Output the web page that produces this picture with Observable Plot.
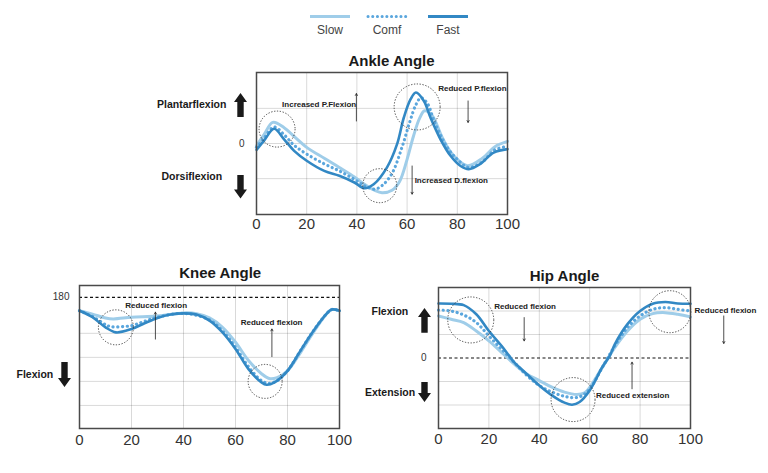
<!DOCTYPE html>
<html><head><meta charset="utf-8">
<script src="https://cdn.jsdelivr.net/npm/d3@7"></script>
<script src="https://cdn.jsdelivr.net/npm/@observablehq/plot@0.6"></script>
<style>
body{margin:0;background:#fff;}
#root{position:relative;width:768px;height:473px;overflow:hidden;background:#fff;font-family:"Liberation Sans",Arial,sans-serif;}
#root svg.panel{position:absolute;left:0;top:0;}
.lbl{position:absolute;font-weight:bold;font-size:10.5px;color:#1a1a1a;white-space:nowrap;transform:translateY(-50%);line-height:1;}
.leg{position:absolute;font-size:12px;color:#444;transform:translate(-50%,-50%);line-height:1;}
.abs{position:absolute;}
</style>
</head><body>
<div id="root"></div>
<script>
// ---------- data ----------
const seriesNames = ["Slow", "Comf", "Fast"];
const xTicks = [0, 20, 40, 60, 80, 100];

// Ankle angle (deg)
const ankleSlowT = [0,3,6.5,11,15,20,27,33,39,43,47,50,54,57,60,62.5,65,67,70,74,78,84,90,95,100];
const ankleSlowV = [-0.7,2.5,6,4.5,2,-1.1,-4.2,-6.8,-9.5,-11.6,-13.3,-14,-13.3,-10.8,-4.5,2,7.2,9.3,7.9,1.7,-3,-6.3,-4.2,-0.9,0.6];
const ankleComfT = [0,3,7,11,15,20,27,33,39,43,47,50,54,58,61,63.5,65.5,68,71,76,80,84.5,90,95,100];
const ankleComfV = [-1.1,1.5,4.7,2.5,-0.5,-3,-5.8,-7.8,-10.2,-12,-13,-12,-8.5,-1,6,11,13,11.5,6,-1.1,-4.5,-6.8,-5.2,-1.8,-0.8];
const ankleFastT = [0,3,7,11,15,20,27,33,39,43,46.7,52,56,58.7,61.4,63.5,66.7,69.3,73.3,77.3,81.3,84.6,89,94.5,100];
const ankleFastV = [-1.8,0.8,4.2,1.2,-2.1,-4.9,-7.8,-9.2,-11.1,-12.7,-11.6,-6.8,-0.2,7.4,12.6,14.5,12.1,7.4,1.2,-3.5,-6.4,-7.3,-5.9,-2.6,-1.6];

// Knee angle (deg)
const kneeSlowT = [0,5,10,13,20,30,40,45,50,55,60,65,70,73,76,80,85,90,95,97,100];
const kneeSlowV = [174.4,173,171.4,171,171.7,172.2,173.5,173.2,171.4,167.5,161.3,153.7,148.2,146.2,146.6,149.4,157,165.5,173,174.9,174.4];
const kneeComfT = [0,5,10,12,20,25,30,40,50,55,60,65,70,73,76,80,85,90,95,97,100];
const kneeComfV = [174.4,172,168.6,167.8,168.2,170,171.7,173.3,170.6,166,159.2,151.1,145.3,144.2,145.3,149.4,157.8,166.1,173.1,174.9,174.4];
const kneeFastT = [0,5,10,14,20,25,30,35,40,45,50,55,60,65,70,72,75,80,85,90,95,97,100];
const kneeFastV = [174.4,171.7,167.5,165.4,166.8,169.2,171.4,172.8,173.3,172.8,170.3,165.4,158.5,150.1,144.6,143.6,144.6,149.4,157.8,166.1,173.1,174.9,174.4];

// Hip angle (deg)
const hipSlowT = [0,5,10,15,20,25,30,35,40,45,50,55,58,60,65,70,75,80,85,90,95,100];
const hipSlowV = [17.9,16.5,15.1,11.5,7.3,2.4,-2.5,-6.8,-9.6,-12.4,-14.5,-15.5,-14.8,-12.5,-4,4.5,11.5,16.5,18.9,19.3,18.6,17.5];
const hipComfT = [0,5,10,15,20,25,30,35,40,45,50,54,57,60,65,70,75,80,85,90,95,100];
const hipComfV = [20.4,20,18.3,15.1,9.4,3.8,-1.8,-7.3,-11.7,-14.5,-16.3,-16.9,-16,-13.2,-4,5.2,13,17.9,20.7,21.4,20.7,20];
const hipFastT = [0,5,10,15,20,25,28,30,35,40,45,50,53,56,60,65,68,70,75,80,85,90,95,100];
const hipFastV = [23.2,23.1,22.5,18.6,11.5,5.2,1,-1.8,-6.8,-11.7,-15.9,-19,-19.9,-18.7,-13.8,-3.9,1,5.9,14.4,20,23.1,23.8,23.2,23.1];

// Annotations: circles [t, deg, radiusPx], notes [t, deg, text], arrows [t, deg from, deg to]
const ankleCircles = [[8.2,4.1,18],[64,10.4,23],[49.1,-12,17]];
const ankleNotes = [[10.2,11,"Increased P.Flexion"],[72.4,15.7,"Reduced P.flexion"],[63,-10.4,"Increased D.flexion"]];
const ankleArrows = [[39.8,6.4,14.2],[84.3,12.1,6.0],[62,-6.4,-14.4]];

const kneeCircles = [[14,167.5,17.5],[71.4,145,17]];
const kneeNotes = [[17.6,176.8,"Reduced flexion"],[62,169.6,"Reduced flexion"]];
const kneeArrows = [[29.2,162.6,173.8],[74,155.3,166.8]];

const hipCircles = [[12.8,16.2,23],[53.4,-17.7,22],[91.8,19.7,21]];
const hipNotes = [[22.1,22.1,"Reduced flexion"],[62.5,-15.9,"Reduced extension"],[101.6,20.4,"Reduced flexion"]];
const hipArrows = [[34,17.2,7.3],[76.8,-13.1,-1.8],[113.2,17.9,6.2]];

// ---------- styling ----------
const colors = {Slow:"#9fcde9", Comf:"#5aa6dd", Fast:"#3288c4"};
const FONT = "Liberation Sans, Arial, sans-serif";

function rows(T, V){ return T.map((t,i)=>({t, v:V[i]})); }

function panel(o){
  const lines = [
    Plot.line(rows(o.slow[0],o.slow[1]), {x:"t", y:"v", stroke:colors.Slow, strokeWidth:3, curve:"catmull-rom"}),
    Plot.line(rows(o.comf[0],o.comf[1]), {x:"t", y:"v", stroke:colors.Comf, strokeWidth:3.2, strokeDasharray:"0.1,4.6", strokeLinecap:"round", curve:"catmull-rom"}),
    Plot.line(rows(o.fast[0],o.fast[1]), {x:"t", y:"v", stroke:colors.Fast, strokeWidth:2.6, curve:"catmull-rom"})
  ];
  const circles = o.circles.map(c => Plot.dot([c], {x:d=>d[0], y:d=>d[1], r:c[2], fill:"none", stroke:"#333", strokeWidth:0.9, strokeDasharray:"1.3,1.6"}));
  return Plot.plot({
    width:768, height:473,
    marginLeft:o.m[0], marginRight:o.m[1], marginTop:o.m[2], marginBottom:o.m[3],
    style:{background:"transparent", fontFamily:FONT, overflow:"visible"},
    x:{domain:[0,100], axis:null},
    y:{domain:o.yDomain, axis:null},
    marks:[
      Plot.gridX([20,40,60,80], {stroke:"#000", strokeOpacity:0.15, strokeWidth:1}),
      Plot.gridY(o.yGrid, {stroke:"#000", strokeOpacity:0.15, strokeWidth:1}),
      Plot.ruleY(o.refLine, {stroke:"#111", strokeWidth:1.2, strokeDasharray:"3,2.5"}),
      ...lines,
      ...circles,
      Plot.arrow(o.arrows, {x1:d=>d[0], y1:d=>d[1], x2:d=>d[0], y2:d=>d[2], stroke:"#222", strokeWidth:0.8, headLength:4}),
      Plot.text(o.notes, {x:d=>d[0], y:d=>d[1], text:d=>d[2], textAnchor:"start", fontSize:8, fontWeight:"bold", fill:"#222"}),
      Plot.frame({stroke:"#4a4a4a", strokeWidth:1.5}),
      Plot.axisX(xTicks, {tickSize:0, tickPadding:o.xPad, fontSize:15, fill:"#333", label:null}),
      Plot.axisY(o.yLabels, {tickSize:0, tickPadding:o.yPad, fontSize:10, fill:"#333", label:null}),
      Plot.text([o.title], {text:d=>d, frameAnchor:"top", lineAnchor:"middle", dy:o.titleDy, dx:o.titleDx, fontSize:15, fontWeight:"bold", fill:"#1a1a1a"})
    ]
  });
}

const root = document.getElementById("root");

const charts = [
  panel({title:"Ankle Angle", titleDy:-11, titleDx:9.5, m:[256,261,72,259], yDomain:[-20.2,20.2], yGrid:[-10,0,10], refLine:[], yLabels:[0], yPad:12, xPad:4,
    slow:[ankleSlowT,ankleSlowV], comf:[ankleComfT,ankleComfV], fast:[ankleFastT,ankleFastV],
    circles:ankleCircles, notes:ankleNotes, arrows:ankleArrows}),
  panel({title:"Knee Angle", titleDy:-12, titleDx:10.7, m:[79,429,285,45], yDomain:[125.4,184.9], yGrid:[135,145,155,165], refLine:[180], yLabels:[180], yPad:10, xPad:6,
    slow:[kneeSlowT,kneeSlowV], comf:[kneeComfT,kneeComfV], fast:[kneeFastT,kneeFastV],
    circles:kneeCircles, notes:kneeNotes, arrows:kneeArrows}),
  panel({title:"Hip Angle", titleDy:-11, titleDx:0, m:[438,78,287,45], yDomain:[-30,30], yGrid:[-20,-10,10,20], refLine:[0], yLabels:[0], yPad:12, xPad:5,
    slow:[hipSlowT,hipSlowV], comf:[hipComfT,hipComfV], fast:[hipFastT,hipFastV],
    circles:hipCircles, notes:hipNotes, arrows:hipArrows})
];
charts.forEach(c => { c.classList.add("panel"); root.appendChild(c); });

// ---------- legend ----------
const legendItems = [
  {name:"Slow", x1:310, x2:350, dash:null},
  {name:"Comf", x1:368, x2:406, dash:"0.1,4.6"},
  {name:"Fast", x1:428, x2:468, dash:null}
];
const ns = "http://www.w3.org/2000/svg";
const legSvg = document.createElementNS(ns,"svg");
legSvg.setAttribute("width",768); legSvg.setAttribute("height",30);
legSvg.setAttribute("class","abs"); legSvg.style.left="0px"; legSvg.style.top="0px";
legendItems.forEach(it=>{
  const l = document.createElementNS(ns,"line");
  l.setAttribute("x1",it.x1); l.setAttribute("x2",it.x2); l.setAttribute("y1",16.5); l.setAttribute("y2",16.5);
  l.setAttribute("stroke",colors[it.name]); l.setAttribute("stroke-width",3);
  if(it.dash){ l.setAttribute("stroke-dasharray",it.dash); l.setAttribute("stroke-linecap","round"); }
  legSvg.appendChild(l);
  const t = document.createElement("div");
  t.className="leg"; t.textContent=it.name; t.style.left=((it.x1+it.x2)/2)+"px"; t.style.top="30px";
  root.appendChild(t);
});
root.appendChild(legSvg);

// ---------- side labels with thick arrows ----------
const sideLabels = [
  {text:"Plantarflexion", left:157, y:104.3},
  {text:"Dorsiflexion", left:161.5, y:175.7},
  {text:"Flexion", left:16.5, y:374.3},
  {text:"Flexion", left:371.5, y:310.7},
  {text:"Extension", left:365, y:391.7}
];
sideLabels.forEach(s=>{
  const d=document.createElement("div"); d.className="lbl"; d.textContent=s.text;
  d.style.left=s.left+"px"; d.style.top=s.y+"px"; root.appendChild(d);
});
const bigArrows = [
  {cx:240, y1:93.3, y2:117.3, dir:"up"},
  {cx:240, y1:175, y2:198.5, dir:"down"},
  {cx:64, y1:361.7, y2:386.7, dir:"down"},
  {cx:424, y1:308, y2:332.7, dir:"up"},
  {cx:424, y1:381.7, y2:401.7, dir:"down"}
];
bigArrows.forEach(a=>{
  const w=13, h=a.y2-a.y1, hh=9, sw=3.2;
  const s=document.createElementNS(ns,"svg");
  s.setAttribute("width",w); s.setAttribute("height",h);
  s.setAttribute("class","abs"); s.style.left=(a.cx-w/2)+"px"; s.style.top=a.y1+"px";
  const p=document.createElementNS(ns,"polygon");
  const c=w/2;
  let pts;
  if(a.dir==="up") pts=[[c,0],[w,hh],[c+sw,hh],[c+sw,h],[c-sw,h],[c-sw,hh],[0,hh]];
  else pts=[[c,h],[w,h-hh],[c+sw,h-hh],[c+sw,0],[c-sw,0],[c-sw,h-hh],[0,h-hh]];
  p.setAttribute("points",pts.map(q=>q.join(",")).join(" "));
  p.setAttribute("fill","#1a1a1a");
  s.appendChild(p); root.appendChild(s);
});
</script>
</body></html>
